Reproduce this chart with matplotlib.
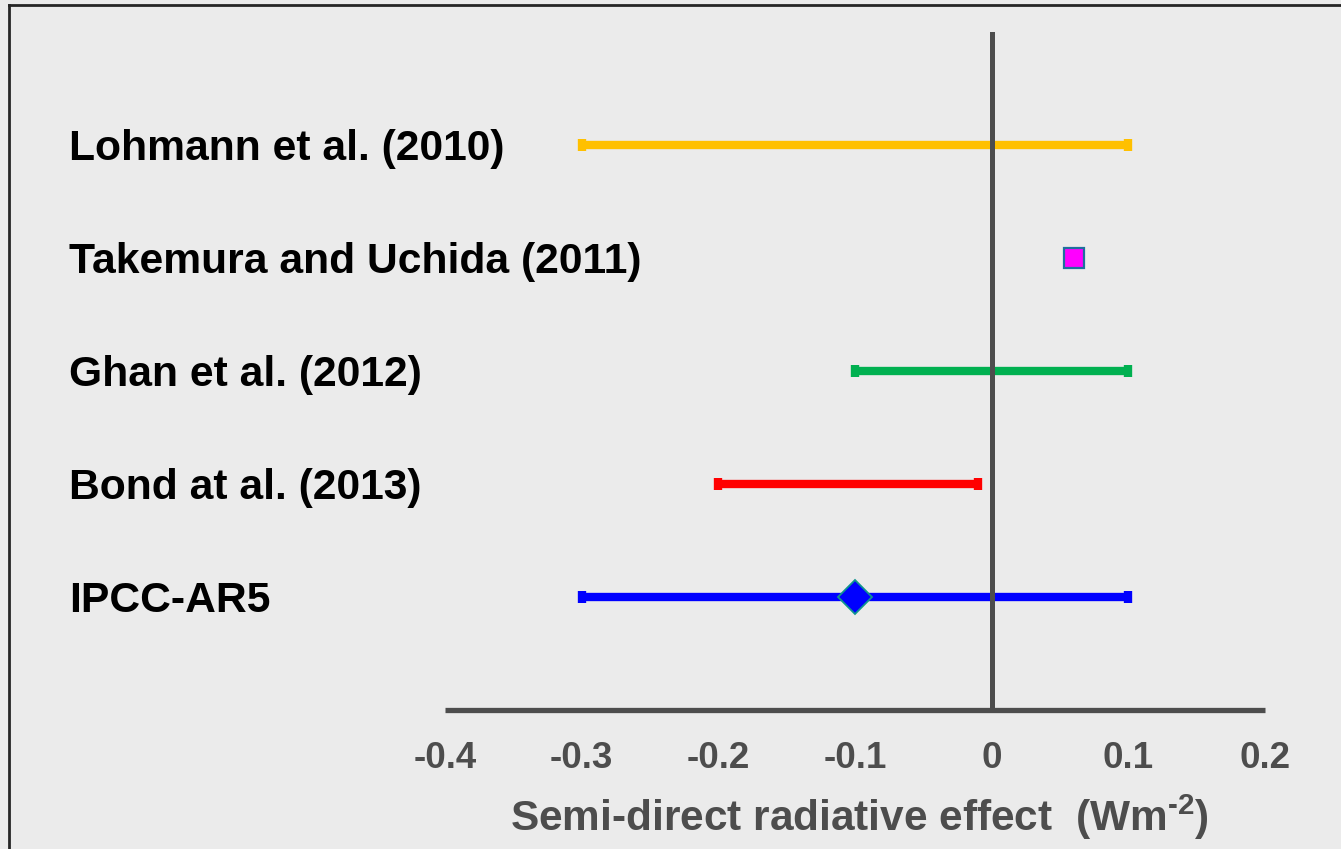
import matplotlib
matplotlib.use("Agg")
import matplotlib.pyplot as plt
from matplotlib.lines import Line2D
from matplotlib import transforms

# Semi-direct radiative effect estimates (W m-2)
studies = ["Lohmann et al. (2010)", "Takemura and Uchida (2011)",
           "Ghan et al. (2012)", "Bond at al. (2013)", "IPCC-AR5"]
low = [-0.3, None, -0.1, -0.2, -0.3]
high = [0.1, None, 0.1, -0.01, 0.1]
point = [None, 0.06, None, None, -0.1]
colors = ["#FFC000", "#FF00FF", "#00B050", "#FF0000", "#0000FF"]

xticks = [-0.4, -0.3, -0.2, -0.1, 0.0, 0.1, 0.2]
xtick_labels = ["-0.4", "-0.3", "-0.2", "-0.1", "0", "0.1", "0.2"]

plt.rcParams["font.family"] = ["Liberation Sans", "DejaVu Sans"]
plt.rcParams["font.weight"] = "bold"
plt.rcParams["mathtext.fontset"] = "custom"
plt.rcParams["mathtext.rm"] = "Liberation Sans:bold"
plt.rcParams["mathtext.bf"] = "Liberation Sans:bold"
plt.rcParams["mathtext.it"] = "Liberation Sans:bold"

bg = "#EBEBEB"
axis_gray = "#4D4D4D"

W, H = 1341, 849
fig = plt.figure(figsize=(W / 100, H / 100), dpi=100, facecolor=bg)
ax = fig.add_axes([445 / W, 139 / H, 820 / W, 678 / H], facecolor=bg)

n = len(studies)
ypos = [n - i for i in range(n)]

for y, lo, hi, pt, c, name in zip(ypos, low, high, point, colors, studies):
    if lo is not None and hi is not None:
        ax.plot([lo, hi], [y, y], color=c, lw=6.0, solid_capstyle="butt",
                zorder=2)
        ax.plot([lo, hi], [y, y], linestyle="none", marker="|", ms=9.2,
                mew=6.0, color=c, zorder=2)
    if pt is not None:
        if lo is None:
            ax.plot(pt, y, marker="s", ms=14.0, mfc=c, mec="#1F6E9E",
                    mew=1.6, linestyle="none", zorder=4)
        else:
            ax.plot(pt, y, marker="D", ms=17.2, mfc=c, mec="#10948F",
                    mew=1.3, linestyle="none", zorder=4)

# zero line
ax.axvline(0, color=axis_gray, lw=3.6, zorder=3)

ax.set_xlim(-0.4, 0.2)
ax.set_ylim(0, n + 1)

for s in ["left", "right", "top"]:
    ax.spines[s].set_visible(False)
ax.spines["bottom"].set_color(axis_gray)
ax.spines["bottom"].set_linewidth(3.8)
ax.spines["bottom"].set_capstyle("butt")

ax.set_yticks([])
ax.set_xticks(xticks)
ax.set_xticklabels(xtick_labels)
ax.tick_params(axis="x", length=0, pad=22, labelsize=26.5,
               labelcolor=axis_gray)
for t in ax.get_xticklabels():
    t.set_fontweight("bold")

ax.set_xlabel("Semi-direct radiative effect  (Wm$^{\\text{-2}}$)",
              fontsize=30.5, color=axis_gray, fontweight="bold")
ax.xaxis.set_label_coords(0.505, -0.122)

# study names at the left
trans = transforms.blended_transform_factory(fig.transFigure, ax.transData)
shift = transforms.ScaledTranslation(0, -15 / 100, fig.dpi_scale_trans)
for y, name in zip(ypos, studies):
    ax.text(69 / W, y, name, transform=trans + shift, ha="left",
            va="baseline", fontsize=30.7, fontweight="bold", color="black",
            clip_on=False)

# frame around the figure (left and top edges)
edge = "#262626"
fig.add_artist(Line2D([9 / W, 9 / W], [0, 1 - 5 / H], transform=fig.transFigure,
                      color=edge, lw=2.0, solid_capstyle="projecting"))
fig.add_artist(Line2D([9 / W, 1], [1 - 5 / H, 1 - 5 / H],
                      transform=fig.transFigure, color=edge, lw=2.0,
                      solid_capstyle="projecting"))

fig.savefig("out.png", dpi=100, facecolor=bg)
